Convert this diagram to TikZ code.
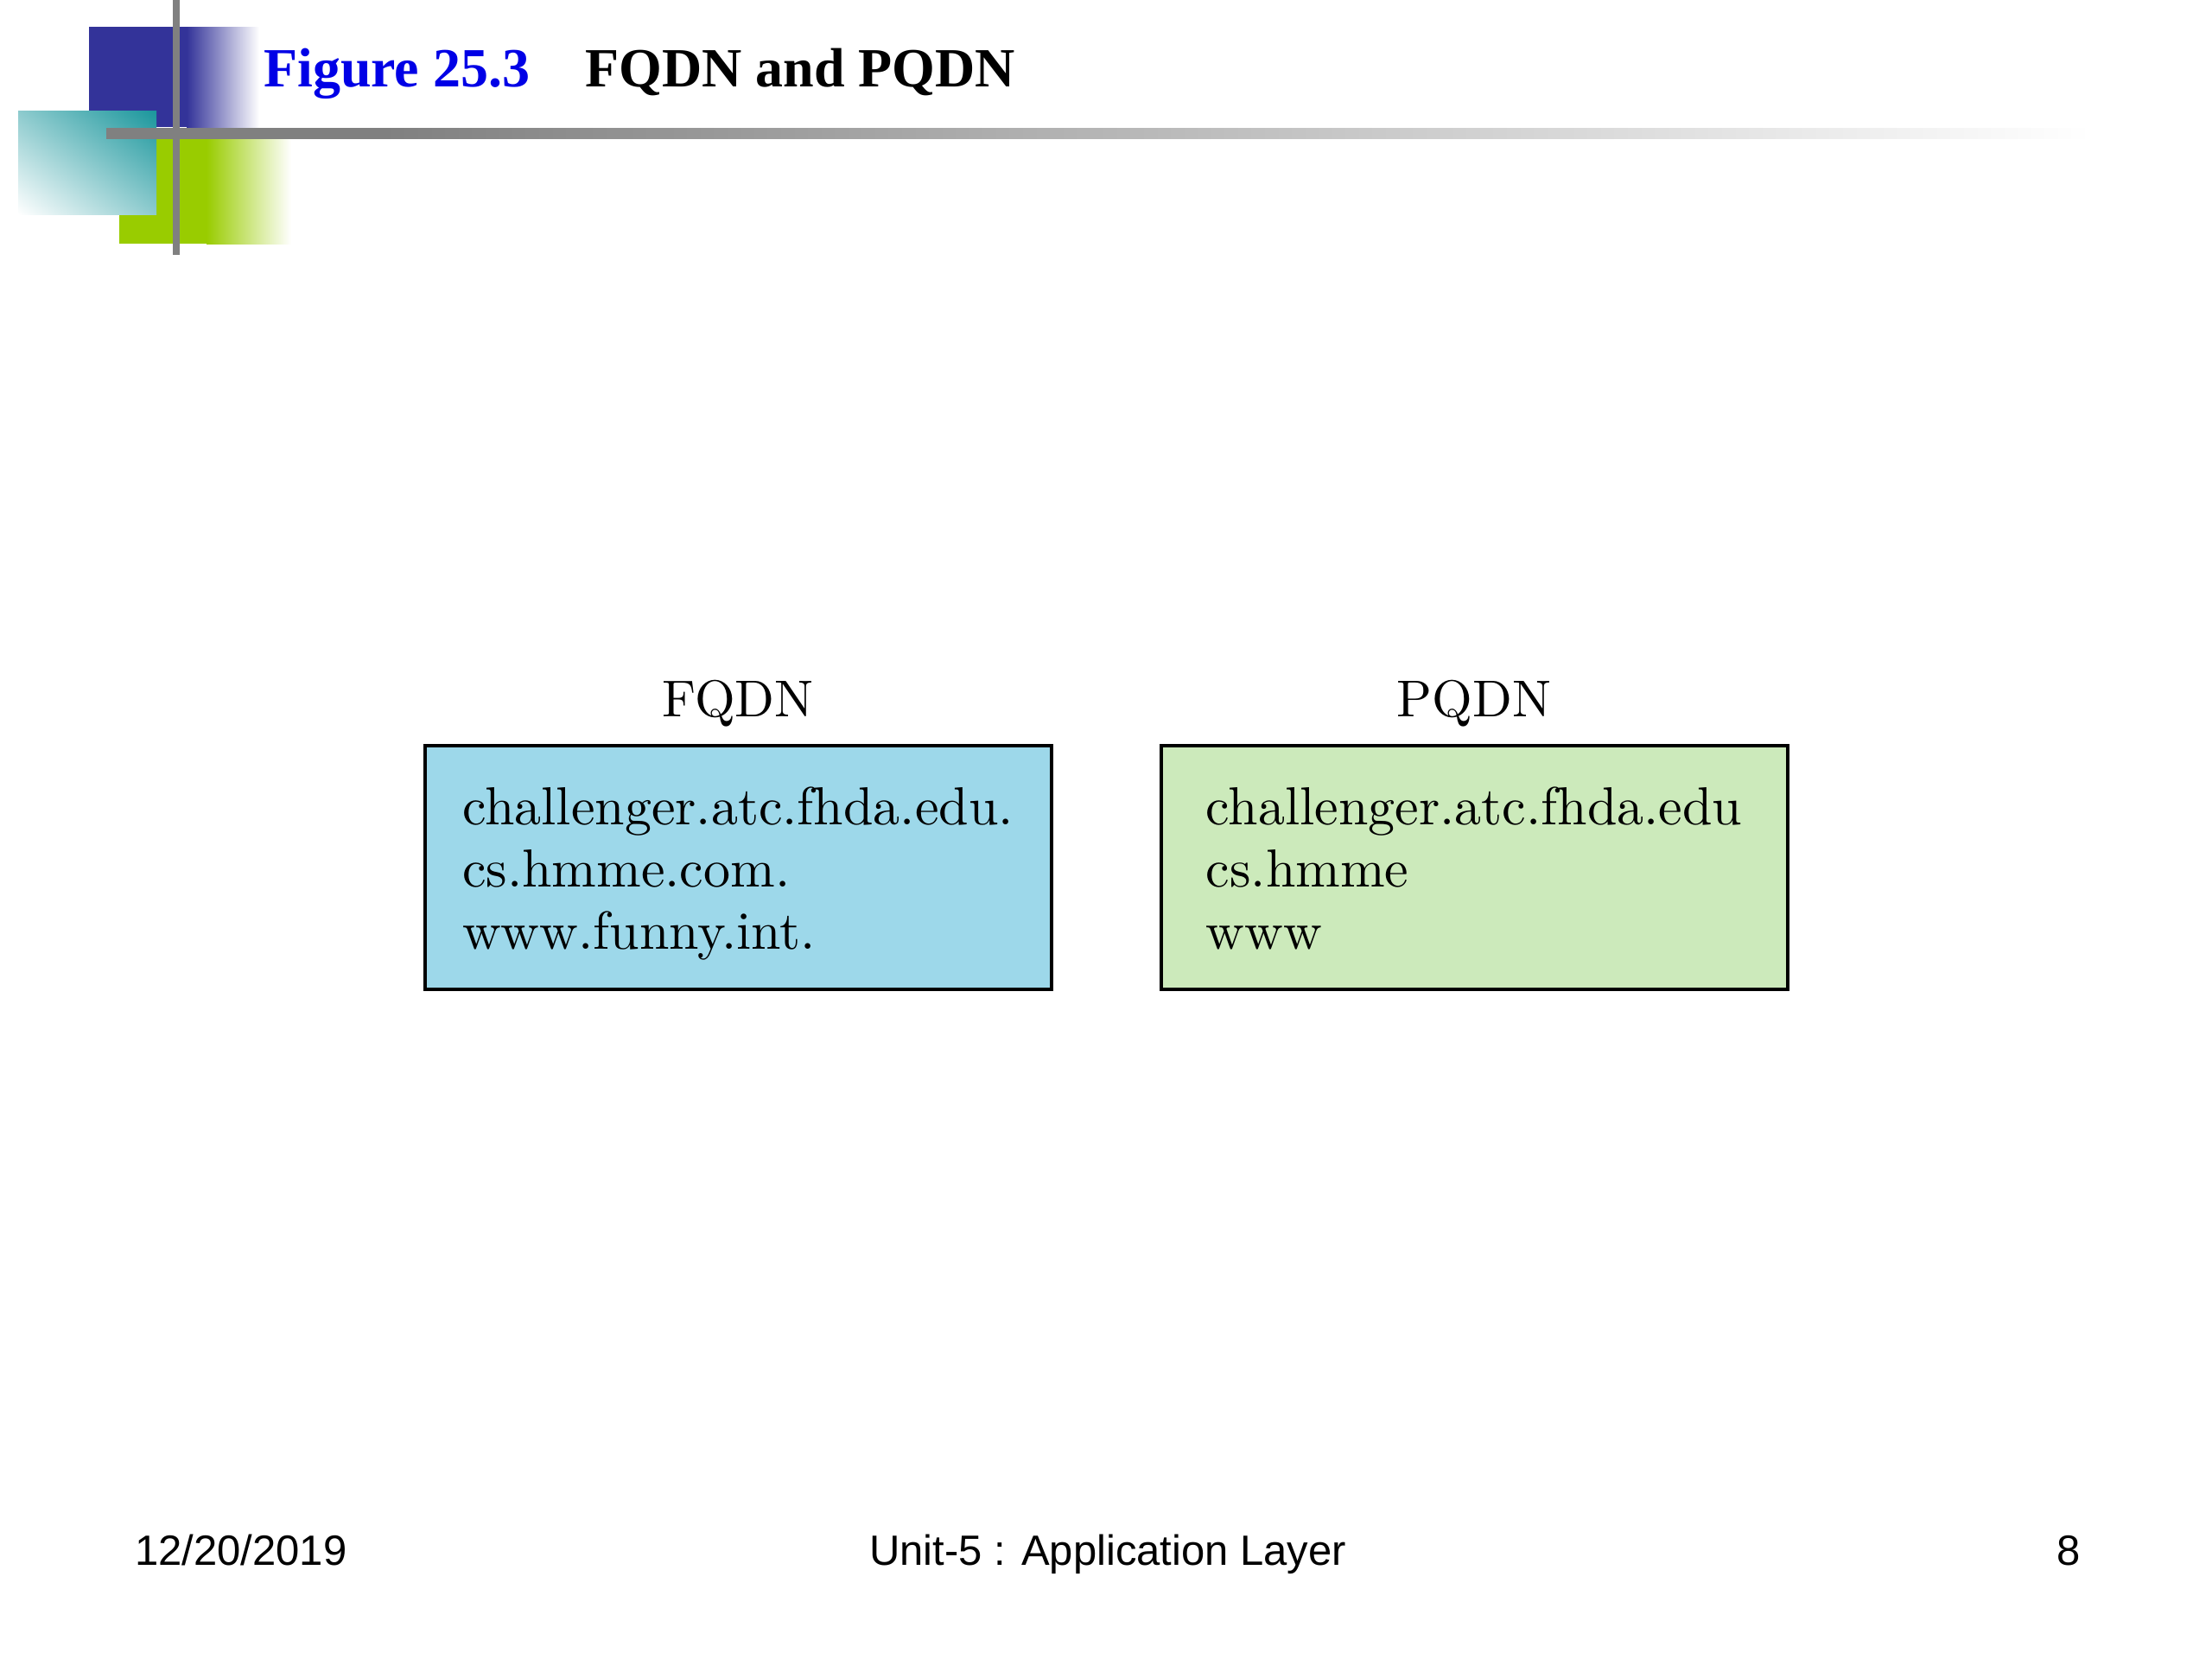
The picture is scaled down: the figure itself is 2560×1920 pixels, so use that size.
\documentclass[tikz,border=0pt]{standalone}
\usepackage{fontspec}
\usetikzlibrary{shadings}
\newfontfamily\titlefont{Liberation Serif}
\newfontfamily\footfont{Liberation Sans}
\newfontfamily\boxfont{lmroman10-regular.otf}
\definecolor{tplblue}{RGB}{51,51,153}
\definecolor{tplgreen}{RGB}{153,204,0}
\definecolor{tplteal}{RGB}{26,150,156}
\definecolor{tplgrey}{RGB}{128,128,128}
\definecolor{titleblue}{RGB}{0,0,230}
\definecolor{fqdnfill}{RGB}{157,216,234}
\definecolor{pqdnfill}{RGB}{204,234,187}
\pgfdeclarehorizontalshading{greyline}{100bp}{color(0bp)=(tplgrey); color(25bp)=(tplgrey); color(32bp)=(tplgrey); color(75bp)=(white); color(100bp)=(white)}
\tikzset{
  namebox/.style={draw=black, line width=4pt, minimum width=725pt, minimum height=282pt, inner sep=0pt},
  nametext/.style={anchor=north, align=left, inner sep=0pt, font=\boxfont\fontsize{62}{72}\selectfont},
  namelabel/.style={anchor=base, inner sep=0pt, font=\boxfont\fontsize{60}{72}\selectfont},
  titletext/.style={anchor=base west, inner sep=0pt, font=\titlefont\bfseries\fontsize{64}{72}\selectfont},
  foottext/.style={inner sep=0pt, font=\footfont\fontsize{49}{58}\selectfont}
}
\begin{document}
\begin{tikzpicture}[x=1pt,y=-1pt]
\useasboundingbox[fill=white] (0,0) rectangle (2560,1920);
% template decoration
\fill[tplblue] (103,31) rectangle (217,147);
\shade[left color=tplblue, right color=white] (216,31) rectangle (300,147);
\fill[tplgreen] (138,160) rectangle (240,282);
\shade[left color=tplgreen, right color=white] (239,160) rectangle (337,282);
\shade[upper right=tplteal, lower left=white, upper left=tplteal!50, lower right=tplteal!50] (21,128) rectangle (181,248);
\shade[shading=greyline] (123,148) rectangle (2420,160);
\fill[tplgrey] (200,0) rectangle (208,295);
% title
\node[titletext, text=titleblue] (figno) at (305,100) {Figure 25.3};
\node[titletext, text=black] (figtitle) at (677,100) {FQDN and PQDN};
% boxes
\node[namebox, fill=fqdnfill] (fqdnbox) at (854,1004) {};
\node[namebox, fill=pqdnfill] (pqdnbox) at (1706,1004) {};
\node[namelabel] (fqdnlabel) at (854,829) {FQDN};
\node[namelabel] (pqdnlabel) at (1706,829) {PQDN};
\node[nametext] (fqdntext) at (854,911) {challenger.atc.fhda.edu.\\cs.hmme.com.\\www.funny.int.};
\node[nametext] (pqdntext) at (1706,911) {challenger.atc.fhda.edu\\cs.hmme\\www};
% footer
\node[foottext, anchor=base west] (date) at (156,1811) {12/20/2019};
\node[foottext, anchor=base] (unit) at (1282,1811) {Unit-5 : Application Layer};
\node[foottext, anchor=base east] (page) at (2408,1811) {8};
\end{tikzpicture}
\end{document}
